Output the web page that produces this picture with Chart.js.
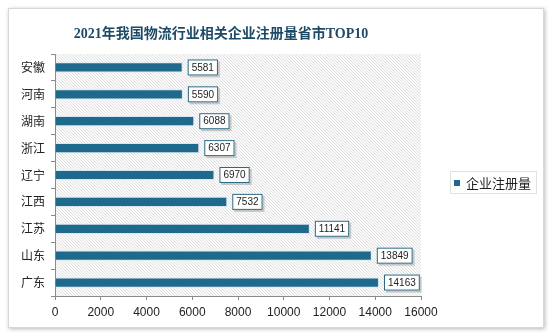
<!DOCTYPE html>
<html>
<head>
<meta charset="utf-8">
<script src="https://cdn.jsdelivr.net/npm/chart.js@4/dist/chart.umd.min.js"></script>
<style>
  html, body { margin: 0; padding: 0; background: #fff; }
  body { width: 549px; height: 333px; position: relative; overflow: hidden; }
  .card {
    position: absolute; left: 8px; top: 8px; width: 534px; height: 318px;
    background: #fff; border: 1px solid #d8d8d8;
    box-shadow: 1px 1px 4px rgba(0, 0, 0, 0.28);
  }
  .card canvas { position: absolute; left: 0; top: 0; }
</style>
</head>
<body>
<div class="card">
  <canvas id="chart" width="534" height="318"></canvas>
</div>
<script>
// 省市及企业注册量
const provinces = ["安徽", "河南", "湖南", "浙江", "辽宁", "江西", "江苏", "山东", "广东"]
const registrations = [5581, 5590, 6088, 6307, 6970, 7532, 11141, 13849, 14163]
const xTicks = [0, 2000, 4000, 6000, 8000, 10000, 12000, 14000, 16000]

const chartTitle = "2021年我国物流行业相关企业注册量省市TOP10"
const seriesName = "企业注册量"
const barColor = "#1f6a8c"

// Plot background with diagonal hatching
const hatchBackground = {
  id: "hatchBackground",
  beforeDraw(chart) {
    const { ctx, chartArea: a } = chart
    ctx.save()
    ctx.fillStyle = "#fbfbfb"
    ctx.fillRect(a.left, a.top, a.right - a.left, a.bottom - a.top)
    ctx.beginPath()
    ctx.rect(a.left, a.top, a.right - a.left, a.bottom - a.top)
    ctx.clip()
    ctx.strokeStyle = "#e0e0e0"
    ctx.lineWidth = 1
    const h = a.bottom - a.top
    for (let x = a.left - h; x < a.right; x += 3) {
      ctx.beginPath()
      ctx.moveTo(x, a.top)
      ctx.lineTo(x + h, a.bottom)
      ctx.stroke()
    }
    ctx.restore()
  },
}

// Title, value boxes and legend
const extras = {
  id: "extras",
  afterDatasetsDraw(chart) {
    const { ctx } = chart
    ctx.save()

    // title
    ctx.font = "bold 14px 'Liberation Serif', 'Noto Sans CJK SC', serif"
    ctx.fillStyle = "#1d4a66"
    ctx.textAlign = "center"
    ctx.textBaseline = "middle"
    ctx.fillText(chartTitle, 212, 25)

    // value labels
    const meta = chart.getDatasetMeta(0)
    ctx.font = "10px 'Liberation Sans', 'Open Sans', sans-serif"
    meta.data.forEach((bar, i) => {
      const text = String(registrations[i])
      const w = ctx.measureText(text).width + 8
      const hgt = 16
      const x = bar.x + 5
      const y = bar.y - hgt / 2
      ctx.fillStyle = "rgba(0,0,0,0.18)"
      ctx.fillRect(x + 2, y + 2, w, hgt)
      ctx.fillStyle = "#fff"
      ctx.fillRect(x, y, w, hgt)
      ctx.strokeStyle = "#2b6886"
      ctx.lineWidth = 1
      ctx.strokeRect(x + 0.5, y + 0.5, w - 1, hgt - 1)
      ctx.fillStyle = "#222"
      ctx.textAlign = "center"
      ctx.fillText(text, x + w / 2, y + hgt / 2 + 0.5)
    })

    // legend
    const lx = 441, ly = 162, lw = 87, lh = 23
    ctx.fillStyle = "#fff"
    ctx.fillRect(lx, ly, lw, lh)
    ctx.strokeStyle = "#e2e2e2"
    ctx.strokeRect(lx + 0.5, ly + 0.5, lw - 1, lh - 1)
    ctx.fillStyle = barColor
    ctx.fillRect(lx + 4, ly + 9, 6, 6)
    ctx.font = "13px 'Noto Sans CJK SC', sans-serif"
    ctx.fillStyle = "#222"
    ctx.textAlign = "left"
    ctx.fillText(seriesName, lx + 16, ly + lh / 2 + 1)

    ctx.restore()
  },
}

const ctx = document.getElementById("chart").getContext("2d")

new Chart(ctx, {
  type: "bar",
  data: {
    labels: provinces,
    datasets: [
      {
        label: seriesName,
        data: registrations,
        backgroundColor: barColor,
        borderColor: "rgba(210,230,240,0.9)",
        borderWidth: 1,
        barPercentage: 0.38,
        categoryPercentage: 1,
      },
    ],
  },
  options: {
    indexAxis: "y",
    responsive: false,
    animation: false,
    layout: { padding: { left: 0, top: 45, right: 122, bottom: 0 } },
    plugins: {
      legend: { display: false },
      tooltip: { enabled: false },
    },
    scales: {
      y: {
        afterFit: (scale) => { scale.width = 46 },
        grid: {
          drawOnChartArea: false,
          drawTicks: true,
          tickLength: 4,
          color: "#8a8a8a",
          offset: true,
        },
        border: { color: "#8a8a8a" },
        ticks: {
          color: "#222",
          padding: 6,
          font: { size: 12, family: "'Noto Sans CJK SC', sans-serif" },
        },
      },
      x: {
        min: 0,
        max: 16000,
        afterFit: (scale) => { scale.height = 31 },
        afterBuildTicks: (scale) => {
          scale.ticks = xTicks.map((v) => ({ value: v }))
        },
        grid: {
          drawOnChartArea: false,
          drawTicks: true,
          tickLength: 4,
          color: "#8a8a8a",
        },
        border: { color: "#8a8a8a" },
        ticks: {
          color: "#222",
          padding: 5,
          maxRotation: 0,
          font: { size: 12, family: "'Liberation Sans', 'Open Sans', sans-serif" },
          callback: (value) => String(value),
        },
      },
    },
  },
  plugins: [hatchBackground, extras],
})
</script>
</body>
</html>
